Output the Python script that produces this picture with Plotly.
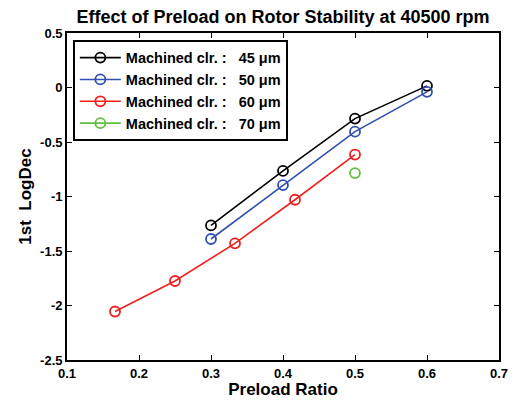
import plotly.graph_objects as go

x45 = [0.3, 0.4, 0.5, 0.6]
y45 = [-1.265, -0.765, -0.285, 0.015]
x50 = [0.3, 0.4, 0.5, 0.6]
y50 = [-1.39, -0.895, -0.405, -0.04]
x60 = [1/6, 0.25, 1/3, 5/12, 0.5]
y60 = [-2.055, -1.775, -1.43, -1.03, -0.615]
x70 = [0.5]
y70 = [-0.785]

names = ["Machined clr. :   45 μm", "Machined clr. :   50 μm",
         "Machined clr. :   60 μm", "Machined clr. :   70 μm"]
colors = ["#000000", "#3050b0", "#f02020", "#60c040"]

xticks = [0.1, 0.2, 0.3, 0.4, 0.5, 0.6, 0.7]
xticklabels = ["0.1", "0.2", "0.3", "0.4", "0.5", "0.6", "0.7"]
yticks = [0.5, 0, -0.5, -1, -1.5, -2, -2.5]
yticklabels = ["0.5", "0", "-0.5", "-1", "-1.5", "-2", "-2.5"]

fig = go.Figure()
for xs, ys, nm, c in zip([x45, x50, x60, x70], [y45, y50, y60, y70], names, colors):
    fig.add_trace(go.Scatter(
        x=xs, y=ys, name="<b>%s</b>" % nm, mode="lines+markers",
        line=dict(color=c, width=1.6),
        marker=dict(symbol="circle-open", size=10, color=c, line=dict(width=1.8, color=c)),
    ))

font = "Liberation Sans, Arial, sans-serif"
fig.update_layout(
    width=518, height=398,
    margin=dict(l=59, r=27, t=25, b=40),
    paper_bgcolor="white", plot_bgcolor="white",
    font=dict(family=font, color="black"),
    title=dict(text="<b>Effect of Preload on Rotor Stability at 40500 rpm</b>",
               x=0.5, xref="paper", y=0.995, yanchor="top",
               font=dict(size=18, family=font, color="black")),
    showlegend=True,
    legend=dict(x=0.014, y=0.979, xanchor="left", yanchor="top",
                bordercolor="black", borderwidth=1.8, bgcolor="white",
                font=dict(size=14.5, family=font, color="black"),
                tracegroupgap=0, itemwidth=41),
    xaxis=dict(range=[0.1, 0.7], tickvals=xticks, ticktext=["<b>%s</b>" % t for t in xticklabels],
               ticks="inside", ticklen=5, tickwidth=1, tickcolor="black",
               showline=True, linecolor="black", linewidth=1.8, mirror="ticks",
               showgrid=False, zeroline=False,
               tickfont=dict(size=13, family=font, color="black"),
               title=dict(text="<b>Preload Ratio</b>", standoff=2,
                          font=dict(size=17, family=font, color="black"))),
    yaxis=dict(range=[-2.5, 0.5], tickvals=yticks, ticktext=["<b>%s</b>" % t for t in yticklabels],
               ticks="inside", ticklen=5, tickwidth=1, tickcolor="black",
               showline=True, linecolor="black", linewidth=1.8, mirror="ticks",
               showgrid=False, zeroline=False,
               tickfont=dict(size=13, family=font, color="black"),
               title=dict(text="<b>1st  LogDec</b>", standoff=4,
                          font=dict(size=17, family=font, color="black"))),
)

fig.write_html("out.html")
